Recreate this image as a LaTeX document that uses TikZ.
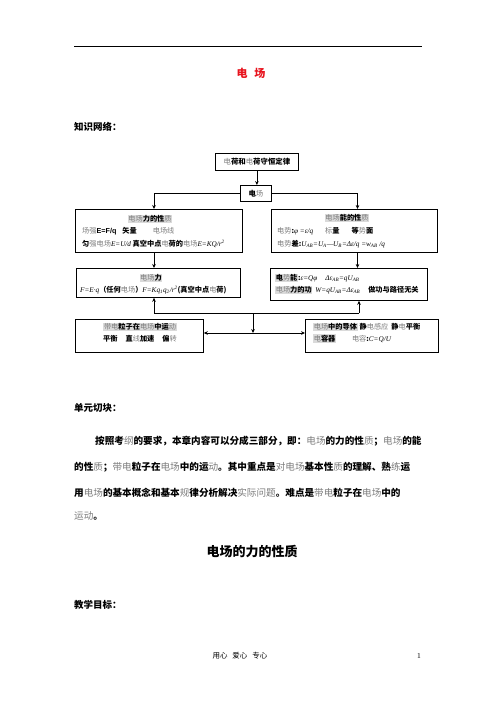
\documentclass[tikz,border=0pt]{standalone}
\usepackage{fontspec}
\setmainfont{Noto Sans CJK SC}
\newfontfamily\ser{Liberation Serif}
\newfontfamily\ars{Liberation Sans}
\usetikzlibrary{arrows.meta}
\definecolor{hlgray}{HTML}{DADADA}
\definecolor{lt}{HTML}{7C7C7C}
\definecolor{titred}{HTML}{E8141E}
\newcommand\lgt[1]{{\mdseries\color{lt}#1}}
\newcommand\hlb[1]{{\setlength{\fboxsep}{0.6pt}\colorbox{hlgray}{#1}}}
\newcommand\mi[1]{{\ser\itshape\mdseries #1}}
\XeTeXlinebreaklocale "zh"
\XeTeXlinebreakskip=0pt plus 1.5pt minus 0.6pt
\begin{document}
\begin{tikzpicture}[x=1pt,y=-1pt,
  box/.style={draw,line width=0.8pt,inner sep=0,anchor=north west},
  tx/.style={inner sep=0,anchor=west,font=\fontsize{7.2}{8}\selectfont\bfseries},
  txc/.style={tx,anchor=center},
  arr/.style={line width=0.8pt,-{Stealth[length=4pt,width=3.6pt]}},
  ln/.style={line width=0.8pt},
  hd/.style={inner sep=0,anchor=west,font=\fontsize{9.5}{10}\selectfont\bfseries},
  para/.style={inner sep=0,anchor=west,font=\fontsize{9.6}{10}\selectfont\bfseries}]
\useasboundingbox[fill=white] (0,0) rectangle (496,702);
% header rule and title
\draw[line width=0.8pt] (74,46) -- (422,46);
\node[inner sep=0,font=\fontsize{11}{12}\selectfont\bfseries,text=titred] (title) at (251,73) {电\hspace{7pt}场};
\node[hd] (h1) at (74,127) {知识网络：};
% boxes
\node[box,minimum width=83pt,minimum height=17pt] (b1) at (215,153) {};
\node[box,minimum width=31pt,minimum height=16pt] (b2) at (240,185) {};
\node[box,minimum width=167pt,minimum height=43pt] (b3) at (75,209) {};
\node[box,minimum width=166pt,minimum height=43pt] (b4) at (271,209) {};
\node[box,minimum width=164pt,minimum height=29pt] (b5) at (76,268) {};
\node[box,minimum width=157pt,minimum height=32pt] (b6) at (270,268) {};
\node[box,minimum width=128pt,minimum height=33pt] (b7) at (75,319) {};
\node[box,minimum width=133pt,minimum height=33pt] (b8) at (305,319) {};
% box texts
\node[txc,font=\fontsize{7.4}{8}\selectfont\bfseries] (t1) at (b1.center) {\lgt{电}荷和\lgt{电}荷守恒定律};
\node[txc,font=\fontsize{7.4}{8}\selectfont\bfseries] (t2) at (b2.center) {电\lgt{场}};
\node[txc] (t3a) at (150,219) {\hlb{\lgt{电场}力的性\lgt{质}}};
\node[tx] (t3b) at (82,231) {\lgt{场强}{\ars E=F/q}\hspace{6pt}矢量\hspace{16pt}\lgt{电场线}};
\node[tx] (t3c) at (82,244) {匀\lgt{强电场}\mi{E=U/d} 真空中点\lgt{电}荷的\lgt{电场}\mi{E=KQ/r\textsuperscript{2}}};
\node[txc] (t4a) at (347,218) {\hlb{\lgt{电场}能的性\lgt{质}}};
\node[tx] (t4b) at (277,231) {\lgt{电势}:\mi{φ =ε/q}\hspace{12pt}\lgt{标}量\hspace{12pt}等\lgt{势}面};
\node[tx] (t4c) at (277,244) {\lgt{电势}差:\mi{U\textsubscript{AB}=U\textsubscript{A}—U\textsubscript{B}=Δε/q =w\textsubscript{AB} /q}};
\node[txc] (t5a) at (151,278) {\hlb{\lgt{电场}力}};
\node[tx] (t5b) at (80,290) {\mi{F=E·q}（任何\lgt{电场}）\mi{F=Kq\textsubscript{1}q\textsubscript{2}/r\textsuperscript{2}}(真空中点\lgt{电}荷)};
\node[tx] (t6a) at (275,278) {\hlb{电\lgt{势}能}:\mi{ε=Qφ}\hspace{8pt}\mi{Δε\textsubscript{AB}=qU\textsubscript{AB}}};
\node[tx] (t6b) at (275,290) {\hlb{\lgt{电场}力的功}\hspace{3pt}\mi{W=qU\textsubscript{AB}=Δε\textsubscript{AB}}\hspace{8pt}做功与路径无关};
\node[txc] (t7a) at (140,327) {\hlb{\lgt{带电}粒子在\lgt{电场}中运\lgt{动}}};
\node[tx] (t7b) at (103,339) {平衡\hspace{8pt}直\lgt{线}加速\hspace{8pt}偏\lgt{转}};
\node[tx] (t8a) at (313,327) {\hlb{\lgt{电场}中的导体}\hspace{2pt}静\lgt{电感应}\hspace{3pt}静\lgt{电}平衡};
\node[tx] (t8b) at (313,338.5) {\hlb{\lgt{电}容器}\hspace{16pt}\lgt{电容}:\mi{C=Q/U}};
% connectors
\coordinate (p3) at (154,209);
\coordinate (p4) at (357.5,209);
\draw[arr] (b1.south) -- (b1.south |- b2.north);
\draw[arr] (b2.west) -| (p3);
\draw[arr] (b2.east) -| (p4);
\draw[arr] (p3 |- b3.south) -- (p3 |- b5.north);
\draw[arr] (p4 |- b4.south) -- (p4 |- b6.north);
\coordinate (jl) at (154,313);
\coordinate (jr) at (359,313);
\coordinate (jm) at (253,313);
\coordinate (jd) at (253,333);
\draw[ln] (jl) -- (jr);
\draw[arr] (jl) -- (jl |- b5.south);
\draw[arr] (jr) -- (jr |- b6.south);
\draw[arr] (jm) -- (jd);
\draw[arr] (jd) -- (jd -| b7.east);
\draw[arr] (jd) -- (jd -| b8.west);
% body text
\node[hd] (h2) at (74,408) {单元切块：};
\node[para] (l1) at (95,441) {\hbox to 323pt{按照考\lgt{纲}的要求，本章内容可以分成三部分，即：\lgt{电场}的力的性\lgt{质}；\lgt{电场}的能}};
\node[para] (l2) at (74,467) {\hbox to 344pt{的性\lgt{质}；\lgt{带电}粒子在\lgt{电场}中的运\lgt{动}。其中重点是\lgt{对电场}基本性\lgt{质}的理解、熟\lgt{练}运}};
\node[para] (l3) at (74,493) {用\lgt{电场}的基本概念和基本\lgt{规}律分析解决\lgt{实际问题}。难点是\lgt{带电}粒子在\lgt{电场}中的};
\node[para] (l4) at (74,516) {\lgt{运动}。};
\node[inner sep=0,font=\fontsize{13}{14}\selectfont\bfseries] (h3) at (252,552) {电场的力的性质};
\node[hd] (h4) at (74,605) {教学目标：};
% footer
\node[inner sep=0,font=\fontsize{7.5}{8}\selectfont] (foot) at (240,656) {用心\hspace{5pt}爱心\hspace{5pt}专心};
\node[inner sep=0,font=\fontsize{7.5}{8}\selectfont\ser] (pg) at (419,656) {1};
\end{tikzpicture}
\end{document}
